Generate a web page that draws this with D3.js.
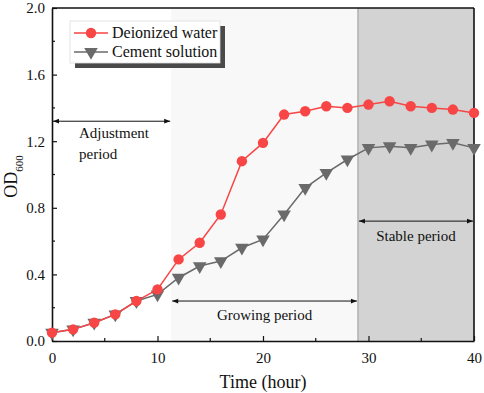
<!DOCTYPE html>
<html>
<head>
<meta charset="utf-8">
<script src="https://cdn.jsdelivr.net/npm/d3@7"></script>
<style>
body{margin:0;background:#fff;}
</style>
</head>
<body>
<svg id="chart" width="484" height="393"></svg>
<script>
const hours = [0,2,4,6,8,10,12,14,16,18,20,22,24,26,28,30,32,34,36,38,40];
const deionizedWater = [0.05,0.07,0.11,0.16,0.24,0.31,0.49,0.59,0.76,1.08,1.19,1.36,1.38,1.41,1.40,1.42,1.44,1.41,1.40,1.39,1.37];
const cementSolution = [0.05,0.07,0.11,0.16,0.24,0.28,0.38,0.45,0.48,0.56,0.61,0.76,0.92,1.01,1.09,1.16,1.17,1.16,1.18,1.19,1.16];
const seriesNames = ["Deionized water","Cement solution"];
const xTicks = [0,10,20,30,40];
const yTicks = [0.0,0.4,0.8,1.2,1.6,2.0];
const periods = [
  {name:["Adjustment","period"], from:0, to:11.3, y:1.32},
  {name:["Growing period"], from:11.3, to:29, y:0.24},
  {name:["Stable period"], from:29, to:40, y:0.72}
];

const FONT = '"Liberation Serif","Times New Roman",serif';
const svg = d3.select("#chart");
const m = {l:52, r:10, t:8, b:52};
const W = 484, H = 393;
const x = d3.scaleLinear().domain([0,40]).range([m.l, W-m.r]);
const y = d3.scaleLinear().domain([0,2]).range([H-m.b, m.t]);

const defs = svg.append("defs");
["start","end"].forEach(k=>{
  defs.append("marker").attr("id","arr-"+k)
    .attr("viewBox","0 0 10 10").attr("refX", k==="end"?10:0).attr("refY",5)
    .attr("markerWidth",10).attr("markerHeight",6).attr("markerUnits","userSpaceOnUse")
    .attr("orient","auto")
    .append("path")
    .attr("d", k==="end" ? "M0,1 L10,5 L0,9 Z" : "M10,1 L0,5 L10,9 Z")
    .attr("fill","#111");
});

// shaded regions
svg.append("rect").attr("x",x(periods[1].from)).attr("y",y(2))
  .attr("width",x(periods[1].to)-x(periods[1].from)).attr("height",y(0)-y(2))
  .attr("fill","#f8f8f8");
svg.append("rect").attr("x",x(periods[2].from)).attr("y",y(2))
  .attr("width",x(periods[2].to)-x(periods[2].from)).attr("height",y(0)-y(2))
  .attr("fill","#d3d3d3");
svg.append("line").attr("x1",x(periods[2].from)).attr("x2",x(periods[2].from))
  .attr("y1",y(2)).attr("y2",y(0)).attr("stroke","#9a9a9a").attr("stroke-width",1);

// axes
const xAxis = d3.axisBottom(x).tickValues(xTicks).tickSizeInner(-5).tickSizeOuter(0).tickFormat(d3.format("d")).tickPadding(11);
const gx = svg.append("g").attr("transform",`translate(0,${y(0)})`).call(xAxis);
const yAxis = d3.axisLeft(y).tickValues(yTicks).tickSizeInner(-5).tickSizeOuter(0).tickFormat(d3.format(".1f")).tickPadding(7);
const gy = svg.append("g").attr("transform",`translate(${x(0)},0)`).call(yAxis);
[gx,gy].forEach(g=>{
  g.attr("font-family",FONT).attr("font-size",15);
  g.selectAll("text").attr("fill","#111");
  g.selectAll("line").attr("stroke","#111").attr("stroke-width",1.2);
  g.select(".domain").attr("stroke","#111").attr("stroke-width",1.6);
});
const minorX = [5,15,25,35];
svg.append("g").selectAll("line").data(minorX).join("line")
  .attr("x1",d=>x(d)).attr("x2",d=>x(d)).attr("y1",y(0)).attr("y2",y(0)-3)
  .attr("stroke","#111").attr("stroke-width",1.2);
const minorY = [0.2,0.6,1.0,1.4,1.8];
svg.append("g").selectAll("line").data(minorY).join("line")
  .attr("x1",x(0)).attr("x2",x(0)+3).attr("y1",d=>y(d)).attr("y2",d=>y(d))
  .attr("stroke","#111").attr("stroke-width",1.2);
svg.append("line").attr("x1",x(0)).attr("x2",x(40)).attr("y1",y(2)).attr("y2",y(2)).attr("stroke","#111").attr("stroke-width",1.6);
svg.append("line").attr("x1",x(40)).attr("x2",x(40)).attr("y1",y(2)).attr("y2",y(0)).attr("stroke","#111").attr("stroke-width",1.6);

// axis titles
svg.append("text").attr("x",(x(0)+x(40))/2).attr("y",388).attr("text-anchor","middle")
  .attr("font-family",FONT).attr("font-size",18).attr("fill","#111").text("Time (hour)");
const yt = svg.append("text").attr("transform",`translate(17,${(y(0)+y(2))/2+2}) rotate(-90)`)
  .attr("text-anchor","middle").attr("font-family",FONT).attr("font-size",18).attr("fill","#111");
yt.append("tspan").text("OD");
yt.append("tspan").attr("baseline-shift","sub").attr("font-size",11).text("600");

// period arrows and labels
periods.forEach(p=>{
  svg.append("line").attr("x1",x(p.from)+1).attr("x2",x(p.to)-1)
    .attr("y1",y(p.y)).attr("y2",y(p.y)).attr("stroke","#111").attr("stroke-width",1)
    .attr("marker-start","url(#arr-start)").attr("marker-end","url(#arr-end)");
});
const adj = svg.append("text").attr("x",79).attr("y",y(periods[0].y)+17)
  .attr("font-family",FONT).attr("font-size",15).attr("fill","#111");
adj.append("tspan").attr("x",79).text(periods[0].name[0]);
adj.append("tspan").attr("x",79).attr("dy",21).text(periods[0].name[1]);
svg.append("text").attr("x",(x(periods[1].from)+x(periods[1].to))/2).attr("y",y(periods[1].y)+19)
  .attr("text-anchor","middle").attr("font-family",FONT).attr("font-size",15).attr("fill","#111").text(periods[1].name[0]);
svg.append("text").attr("x",(x(periods[2].from)+x(periods[2].to))/2).attr("y",y(periods[2].y)+20)
  .attr("text-anchor","middle").attr("font-family",FONT).attr("font-size",15).attr("fill","#111").text(periods[2].name[0]);

// series
const red = "#f84545", gray = "#6a6a6a";
const line = d3.line().x((d,i)=>x(hours[i])).y(d=>y(d));
const tri = d3.symbol().type(d3.symbolTriangle).size(80);

svg.append("path").datum(cementSolution).attr("d",line).attr("fill","none").attr("stroke",gray).attr("stroke-width",1.5);
svg.append("g").selectAll("path").data(cementSolution).join("path")
  .attr("d",tri).attr("transform",(d,i)=>`translate(${x(hours[i])},${y(d)}) rotate(180)`).attr("fill",gray);

svg.append("path").datum(deionizedWater).attr("d",line).attr("fill","none").attr("stroke",red).attr("stroke-width",1.5);
svg.append("g").selectAll("circle").data(deionizedWater).join("circle")
  .attr("cx",(d,i)=>x(hours[i])).attr("cy",d=>y(d)).attr("r",5.2).attr("fill",red);

// legend
const lg = svg.append("g");
const lx = 70, ly = 21, lw = 150, lh = 42;
lg.append("rect").attr("x",lx+5).attr("y",ly+5).attr("width",lw).attr("height",lh).attr("fill","#4a4a4a");
lg.append("rect").attr("x",lx).attr("y",ly).attr("width",lw).attr("height",lh).attr("fill","#fff").attr("stroke","#ddd").attr("stroke-width",0.8);
const entries = [{name:seriesNames[0],c:red,t:"c"},{name:seriesNames[1],c:gray,t:"t"}];
entries.forEach((e,i)=>{
  const yy = ly + 12 + i*19;
  lg.append("line").attr("x1",lx+4).attr("x2",lx+38).attr("y1",yy).attr("y2",yy).attr("stroke",e.c).attr("stroke-width",1.5);
  if(e.t==="c") lg.append("circle").attr("cx",lx+21).attr("cy",yy).attr("r",5.2).attr("fill",e.c);
  else lg.append("path").attr("d",tri).attr("transform",`translate(${lx+21},${yy}) rotate(180)`).attr("fill",e.c);
  lg.append("text").attr("x",lx+42).attr("y",yy+5).attr("font-family",FONT).attr("font-size",16).attr("fill","#111").text(e.name);
});
</script>
</body>
</html>
